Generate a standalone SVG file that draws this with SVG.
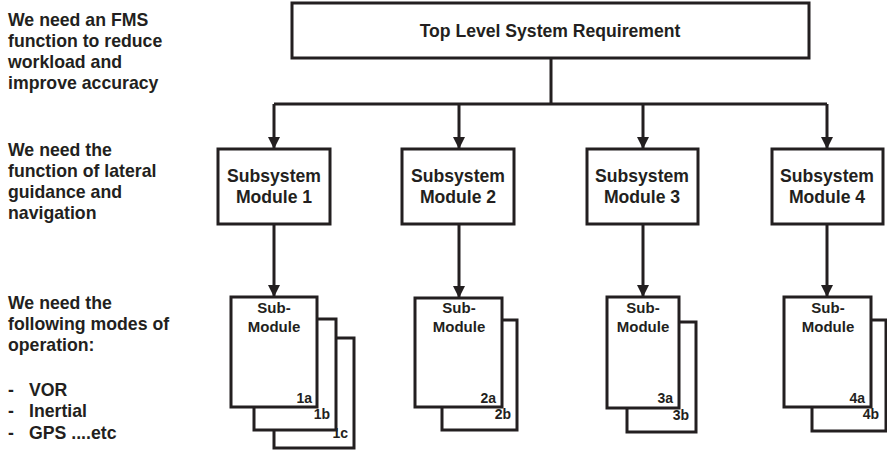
<svg xmlns="http://www.w3.org/2000/svg" width="887" height="450" viewBox="0 0 887 450">
<style>
text{font-family:"Liberation Sans",Arial,sans-serif;font-weight:bold;fill:#231f20}
.note{font-size:17.7px}
.big{font-size:17.6px;text-anchor:middle}
.sm{font-size:15px;text-anchor:middle}
.lbl{font-size:14px;text-anchor:end}
.box{fill:#fff;stroke:#231f20;stroke-width:3}
.con{fill:none;stroke:#231f20;stroke-width:3}
</style>
<defs>
<marker id="ah" markerUnits="userSpaceOnUse" markerWidth="13" markerHeight="13" refX="12" refY="6" orient="auto">
<path d="M0,0 L12,6 L0,12 z" fill="#231f20"/>
</marker>
</defs>
<rect width="887" height="450" fill="#fff"/>
<g id="notes">
<text class="note"><tspan x="8" y="26">We need an FMS</tspan><tspan x="8" y="47">function to reduce</tspan><tspan x="8" y="68">workload and</tspan><tspan x="8" y="89">improve accuracy</tspan></text>
<text class="note"><tspan x="8" y="156">We need the</tspan><tspan x="8" y="177">function of lateral</tspan><tspan x="8" y="198">guidance and</tspan><tspan x="8" y="219">navigation</tspan></text>
<text class="note"><tspan x="8" y="309">We need the</tspan><tspan x="8" y="330">following modes of</tspan><tspan x="8" y="351">operation:</tspan></text>
<text class="note"><tspan x="8" y="396">-</tspan><tspan x="29" y="396">VOR</tspan><tspan x="8" y="417">-</tspan><tspan x="29" y="417">Inertial</tspan><tspan x="8" y="439">-</tspan><tspan x="29" y="439">GPS ....etc</tspan></text>
</g>
<g id="connectors">
<path class="con" d="M551,58 V104 M274,104 H827"/>
<path class="con" d="M274,104 V149" marker-end="url(#ah)"/>
<path class="con" d="M459,104 V149" marker-end="url(#ah)"/>
<path class="con" d="M643,104 V149" marker-end="url(#ah)"/>
<path class="con" d="M827,104 V149" marker-end="url(#ah)"/>
<path class="con" d="M274,224 V297" marker-end="url(#ah)"/>
<path class="con" d="M459,224 V298" marker-end="url(#ah)"/>
<path class="con" d="M643,224 V297" marker-end="url(#ah)"/>
<path class="con" d="M827,224 V297" marker-end="url(#ah)"/>
</g>
<g id="top">
<rect class="box" x="292" y="3" width="517" height="55"/>
<text class="big" x="550" y="37">Top Level System Requirement</text>
</g>
<g id="ss1">
<rect class="box" x="218" y="149" width="112" height="75"/>
<text class="big" x="274" y="182">Subsystem</text>
<text class="big" x="274" y="203">Module 1</text>
</g>
<g id="ss2">
<rect class="box" x="402" y="149" width="112" height="75"/>
<text class="big" x="458" y="182">Subsystem</text>
<text class="big" x="458" y="203">Module 2</text>
</g>
<g id="ss3">
<rect class="box" x="587" y="149" width="111" height="75"/>
<text class="big" x="642" y="182">Subsystem</text>
<text class="big" x="642" y="203">Module 3</text>
</g>
<g id="ss4">
<rect class="box" x="772" y="149" width="111" height="75"/>
<text class="big" x="827" y="182">Subsystem</text>
<text class="big" x="827" y="203">Module 4</text>
</g>
<g id="sm1">
<rect class="box" x="274" y="338" width="80" height="110"/>
<text class="lbl" x="348" y="438">1c</text>
<rect class="box" x="254" y="319" width="82" height="111"/>
<text class="lbl" x="330" y="419">1b</text>
<rect class="box" x="231" y="297" width="86" height="110"/>
<text class="sm" x="274" y="313">Sub-</text>
<text class="sm" x="274" y="332">Module</text>
<text class="lbl" x="312" y="403">1a</text>
</g>
<g id="sm2">
<rect class="box" x="442" y="320" width="75" height="110"/>
<text class="lbl" x="511" y="419">2b</text>
<rect class="box" x="415" y="298" width="87" height="109"/>
<text class="sm" x="459" y="313">Sub-</text>
<text class="sm" x="459" y="332">Module</text>
<text class="lbl" x="496" y="403">2a</text>
</g>
<g id="sm3">
<rect class="box" x="627" y="322" width="69" height="110"/>
<text class="lbl" x="689" y="420">3b</text>
<rect class="box" x="607" y="297" width="72" height="111"/>
<text class="sm" x="643" y="313">Sub-</text>
<text class="sm" x="643" y="332">Module</text>
<text class="lbl" x="673" y="403">3a</text>
</g>
<g id="sm4">
<rect class="box" x="812" y="320" width="74" height="111"/>
<text class="lbl" x="879" y="419">4b</text>
<rect class="box" x="784" y="297" width="87" height="110"/>
<text class="sm" x="828" y="313">Sub-</text>
<text class="sm" x="828" y="332">Module</text>
<text class="lbl" x="865" y="403">4a</text>
</g>
</svg>
